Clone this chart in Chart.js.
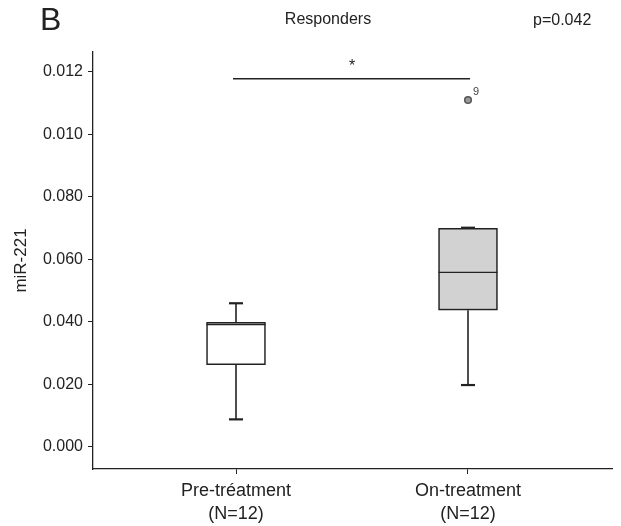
<!DOCTYPE html>
<html>
<head>
<meta charset="utf-8">
<script src="https://cdn.jsdelivr.net/npm/chart.js@4/dist/chart.umd.min.js"></script>
<style>
  html, body { margin: 0; padding: 0; background: #fff; }
  #wrap { width: 621px; height: 526px; position: relative; }
</style>
</head>
<body>
<div id="wrap"><canvas id="boxChart"></canvas></div>
<script>
// groups
const categories = ['Pre-tréatment', 'On-treatment'];
const groupN = ['(N=12)', '(N=12)'];
const groupPos = [1, 2];

// box plot stats
const whiskerLow = [0.0087, 0.0197];
const q1 = [0.0262, 0.0437];
const median = [0.0391, 0.0558];
const q3 = [0.0398, 0.0699];
const whiskerHigh = [0.0459, 0.0701];
const boxColors = ['#ffffff', '#d2d2d2'];

// outlier (case 9, on-treatment)
const outlierX = [2];
const outlierY = [0.1110];
const outlierLabels = ['9'];

// y ticks (labels as printed on the figure)
const yTickValues = [0, 0.02, 0.04, 0.06, 0.08, 0.10, 0.12];
const yTickLabels = ['0.000', '0.020', '0.040', '0.060', '0.080', '0.010', '0.012'];

// significance bar
const sigFrom = 1, sigTo = 2, sigY = 0.1178, sigText = '*';

const FONT = '"Liberation Sans", Arial, sans-serif';
const INK = '#222';

const boxExtras = {
    id: 'boxExtras',
    afterDatasetsDraw(chart) {
        const { ctx, scales: { x, y } } = chart;
        ctx.save();
        ctx.strokeStyle = INK;
        const halfBox = 59 / 2, halfCap = 7;
        const line = (x1, y1, x2, y2) => {
            ctx.beginPath(); ctx.moveTo(x1, y1); ctx.lineTo(x2, y2); ctx.stroke();
        };
        groupPos.forEach((pos, i) => {
            const px = x.getPixelForValue(pos);
            // whiskers
            ctx.lineWidth = 1.6;
            line(px, y.getPixelForValue(q3[i]), px, y.getPixelForValue(whiskerHigh[i]));
            line(px, y.getPixelForValue(q1[i]), px, y.getPixelForValue(whiskerLow[i]));
            ctx.lineWidth = 2.2;
            line(px - halfCap, y.getPixelForValue(whiskerHigh[i]), px + halfCap, y.getPixelForValue(whiskerHigh[i]));
            line(px - halfCap, y.getPixelForValue(whiskerLow[i]), px + halfCap, y.getPixelForValue(whiskerLow[i]));
            // median
            ctx.lineWidth = 1.4;
            line(px - halfBox, y.getPixelForValue(median[i]), px + halfBox, y.getPixelForValue(median[i]));
        });

        // outlier labels
        ctx.fillStyle = '#444';
        ctx.font = '11px ' + FONT;
        ctx.textAlign = 'left';
        ctx.textBaseline = 'middle';
        outlierLabels.forEach((t, i) => {
            ctx.fillText(t, x.getPixelForValue(outlierX[i]) + 5, y.getPixelForValue(outlierY[i]) - 8);
        });

        // significance bar + star
        const sy = y.getPixelForValue(sigY);
        ctx.strokeStyle = INK;
        ctx.lineWidth = 1.5;
        line(x.getPixelForValue(sigFrom) - 3, sy, x.getPixelForValue(sigTo) + 2, sy);
        ctx.fillStyle = INK;
        ctx.font = '16px ' + FONT;
        ctx.textAlign = 'center';
        ctx.fillText(sigText, (x.getPixelForValue(sigFrom) + x.getPixelForValue(sigTo)) / 2, sy - 12);

        // header texts
        ctx.textBaseline = 'middle';
        ctx.font = '32px ' + FONT;
        ctx.textAlign = 'left';
        ctx.fillText('B', 40, 21);
        ctx.font = '16px ' + FONT;
        ctx.textAlign = 'center';
        ctx.fillText('Responders', 328, 20);
        ctx.textAlign = 'left';
        ctx.fillText('p=0.042', 533, 21);
        ctx.restore();
    }
};

new Chart(document.getElementById('boxChart').getContext('2d'), {
    type: 'bar',
    data: {
        datasets: [
            {
                type: 'bar',
                label: 'IQR',
                data: groupPos.map((p, i) => ({ x: p, y: [q1[i], q3[i]] })),
                backgroundColor: boxColors,
                borderColor: INK,
                borderWidth: 1.6,
                borderSkipped: false,
                barThickness: 59
            },
            {
                type: 'scatter',
                label: 'Outliers',
                data: outlierX.map((p, i) => ({ x: p, y: outlierY[i] })),
                backgroundColor: '#9a9a9a',
                borderColor: '#555',
                borderWidth: 1.5,
                pointRadius: 3.3
            }
        ]
    },
    options: {
        responsive: true,
        maintainAspectRatio: false,
        animation: false,
        layout: { padding: { top: 52, right: 9, left: 0, bottom: 0 } },
        plugins: {
            legend: { display: false },
            tooltip: { enabled: false }
        },
        scales: {
            x: {
                type: 'linear',
                offset: false,
                min: 0.3836,
                max: 2.6207,
                afterBuildTicks: s => { s.ticks = groupPos.map(v => ({ value: v })); },
                afterFit: s => { s.height = 57; },
                grid: { display: true, offset: false, drawOnChartArea: false, drawTicks: true, tickLength: 5, color: INK },
                border: { display: true, color: INK, width: 1.3 },
                ticks: {
                    color: INK,
                    padding: 6,
                    maxRotation: 0,
                    font: { family: FONT, size: 18, lineHeight: 1.25 },
                    callback: v => {
                        const i = groupPos.indexOf(v);
                        return i < 0 ? '' : [categories[i], groupN[i]];
                    }
                }
            },
            y: {
                min: -0.0072,
                max: 0.1264,
                afterBuildTicks: s => { s.ticks = yTickValues.map(v => ({ value: v })); },
                afterFit: s => { s.width = 93; },
                grid: { display: true, drawOnChartArea: false, drawTicks: true, tickLength: 5, color: INK },
                border: { display: true, color: INK, width: 1.3 },
                title: {
                    display: true,
                    text: 'miR-221',
                    color: INK,
                    font: { family: FONT, size: 17 },
                    padding: { top: 11, bottom: 0 }
                },
                ticks: {
                    color: INK,
                    padding: 5,
                    font: { family: FONT, size: 16 },
                    callback: v => {
                        const i = yTickValues.findIndex(t => Math.abs(t - v) < 1e-9);
                        return i < 0 ? '' : yTickLabels[i];
                    }
                }
            }
        }
    },
    plugins: [boxExtras]
});
</script>
</body>
</html>
